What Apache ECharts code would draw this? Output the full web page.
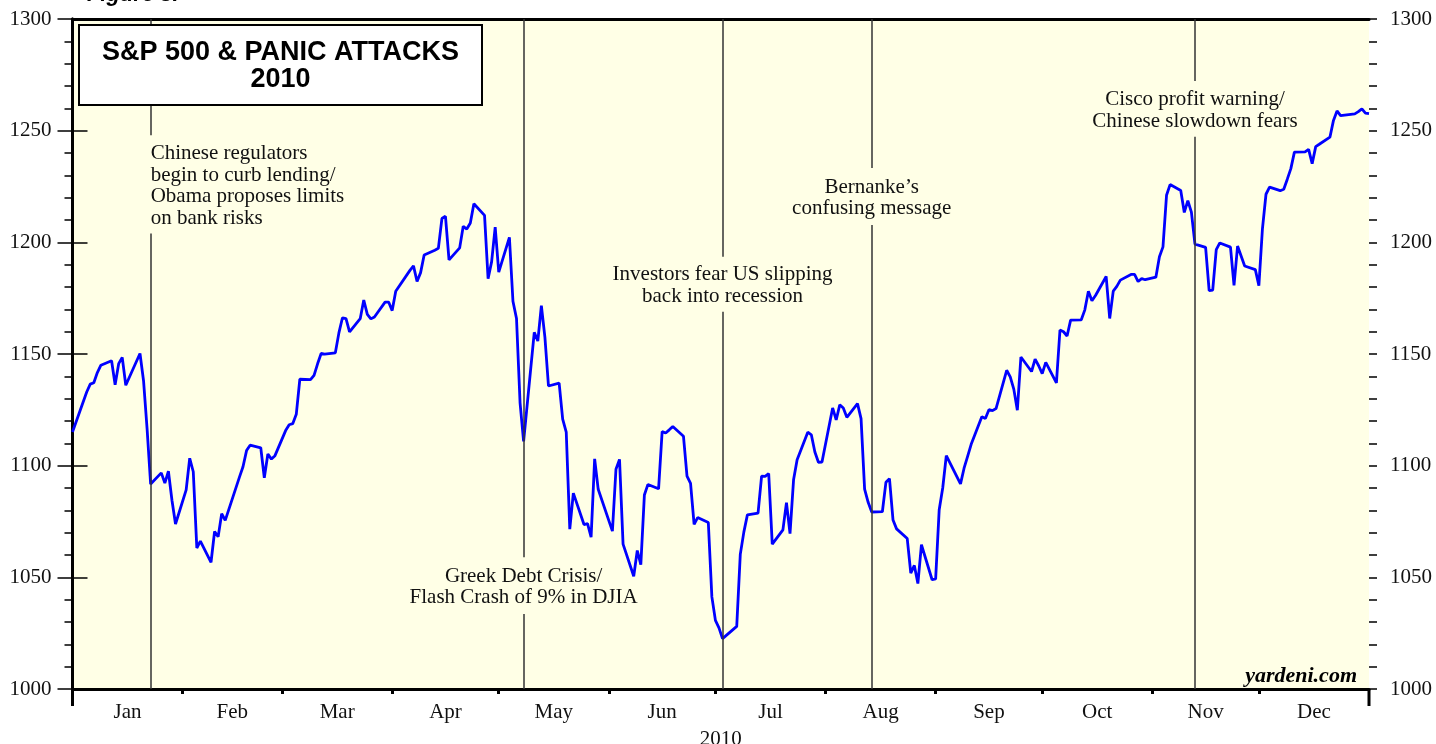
<!DOCTYPE html>
<html><head><meta charset="utf-8">
<script src="https://cdn.jsdelivr.net/npm/echarts@6/dist/echarts.min.js"></script>
<style>html,body{margin:0;padding:0;background:#fff}#c{width:1436px;height:744px}</style>
</head><body><div id="c"></div>
<script>
// S&P 500 daily closes
const tradeDates = [
'2009-12-31',
'2010-01-04','2010-01-05','2010-01-06','2010-01-07','2010-01-08','2010-01-11','2010-01-12','2010-01-13','2010-01-14','2010-01-15','2010-01-19','2010-01-20','2010-01-21','2010-01-22','2010-01-25','2010-01-26','2010-01-27','2010-01-28','2010-01-29',
'2010-02-01','2010-02-02','2010-02-03','2010-02-04','2010-02-05','2010-02-08','2010-02-09','2010-02-10','2010-02-11','2010-02-12','2010-02-16','2010-02-17','2010-02-18','2010-02-19','2010-02-22','2010-02-23','2010-02-24','2010-02-25','2010-02-26',
'2010-03-01','2010-03-02','2010-03-03','2010-03-04','2010-03-05','2010-03-08','2010-03-09','2010-03-10','2010-03-11','2010-03-12','2010-03-15','2010-03-16','2010-03-17','2010-03-18','2010-03-19','2010-03-22','2010-03-23','2010-03-24','2010-03-25','2010-03-26','2010-03-29','2010-03-30','2010-03-31',
'2010-04-01','2010-04-05','2010-04-06','2010-04-07','2010-04-08','2010-04-09','2010-04-12','2010-04-13','2010-04-14','2010-04-15','2010-04-16','2010-04-19','2010-04-20','2010-04-21','2010-04-22','2010-04-23','2010-04-26','2010-04-27','2010-04-28','2010-04-29','2010-04-30',
'2010-05-03','2010-05-04','2010-05-05','2010-05-06','2010-05-07','2010-05-10','2010-05-11','2010-05-12','2010-05-13','2010-05-14','2010-05-17','2010-05-18','2010-05-19','2010-05-20','2010-05-21','2010-05-24','2010-05-25','2010-05-26','2010-05-27','2010-05-28',
'2010-06-01','2010-06-02','2010-06-03','2010-06-04','2010-06-07','2010-06-08','2010-06-09','2010-06-10','2010-06-11','2010-06-14','2010-06-15','2010-06-16','2010-06-17','2010-06-18','2010-06-21','2010-06-22','2010-06-23','2010-06-24','2010-06-25','2010-06-28','2010-06-29','2010-06-30',
'2010-07-01','2010-07-02','2010-07-06','2010-07-07','2010-07-08','2010-07-09','2010-07-12','2010-07-13','2010-07-14','2010-07-15','2010-07-16','2010-07-19','2010-07-20','2010-07-21','2010-07-22','2010-07-23','2010-07-26','2010-07-27','2010-07-28','2010-07-29','2010-07-30',
'2010-08-02','2010-08-03','2010-08-04','2010-08-05','2010-08-06','2010-08-09','2010-08-10','2010-08-11','2010-08-12','2010-08-13','2010-08-16','2010-08-17','2010-08-18','2010-08-19','2010-08-20','2010-08-23','2010-08-24','2010-08-25','2010-08-26','2010-08-27','2010-08-30','2010-08-31',
'2010-09-01','2010-09-02','2010-09-03','2010-09-07','2010-09-08','2010-09-09','2010-09-10','2010-09-13','2010-09-14','2010-09-15','2010-09-16','2010-09-17','2010-09-20','2010-09-21','2010-09-22','2010-09-23','2010-09-24','2010-09-27','2010-09-28','2010-09-29','2010-09-30',
'2010-10-01','2010-10-04','2010-10-05','2010-10-06','2010-10-07','2010-10-08','2010-10-11','2010-10-12','2010-10-13','2010-10-14','2010-10-15','2010-10-18','2010-10-19','2010-10-20','2010-10-21','2010-10-22','2010-10-25','2010-10-26','2010-10-27','2010-10-28','2010-10-29',
'2010-11-01','2010-11-02','2010-11-03','2010-11-04','2010-11-05','2010-11-08','2010-11-09','2010-11-10','2010-11-11','2010-11-12','2010-11-15','2010-11-16','2010-11-17','2010-11-18','2010-11-19','2010-11-22','2010-11-23','2010-11-24','2010-11-26','2010-11-29','2010-11-30',
'2010-12-01','2010-12-02','2010-12-03','2010-12-06','2010-12-07','2010-12-08','2010-12-09','2010-12-10','2010-12-13','2010-12-14','2010-12-15','2010-12-16','2010-12-17','2010-12-20','2010-12-21','2010-12-22','2010-12-23','2010-12-27','2010-12-28','2010-12-29','2010-12-30','2010-12-31'
];
const closes = [
1115.10,
1132.99,1136.52,1137.14,1141.69,1144.98,1146.98,1136.22,1145.68,1148.46,1136.03,1150.23,1138.04,1116.48,1091.76,1096.78,1092.17,1097.50,1084.53,1073.87,
1089.19,1103.32,1097.28,1063.11,1066.19,1056.74,1070.52,1068.13,1078.47,1075.51,1094.87,1099.51,1106.75,1109.17,1108.01,1094.60,1105.24,1102.94,1104.49,
1115.71,1118.31,1118.79,1122.97,1138.70,1138.50,1140.45,1145.61,1150.24,1149.99,1150.51,1159.46,1166.21,1165.83,1159.90,1165.81,1174.17,1167.72,1165.73,1166.59,1173.22,1173.27,1169.43,
1178.10,1187.44,1189.44,1182.45,1186.44,1194.37,1196.48,1197.30,1210.65,1211.67,1192.13,1197.52,1207.17,1205.94,1208.67,1217.28,1212.05,1183.71,1191.36,1206.78,1186.69,
1202.26,1173.60,1165.87,1128.15,1110.88,1159.73,1155.79,1171.67,1157.44,1135.68,1136.94,1120.80,1115.05,1071.59,1087.69,1073.65,1074.03,1067.95,1103.06,1089.41,
1070.71,1098.38,1102.83,1064.88,1050.47,1062.00,1055.69,1086.84,1091.60,1089.63,1115.23,1114.61,1116.04,1117.51,1113.20,1095.31,1092.04,1073.69,1076.76,1074.57,1041.24,1030.71,
1027.37,1022.58,1028.06,1060.27,1070.25,1077.96,1078.75,1095.34,1095.17,1096.48,1064.88,1071.25,1083.48,1069.59,1093.67,1102.66,1115.01,1113.84,1106.13,1101.53,1101.60,
1125.86,1120.46,1127.24,1125.81,1121.64,1127.79,1121.06,1089.47,1083.61,1079.25,1079.38,1092.54,1094.16,1075.63,1071.69,1067.36,1051.87,1055.33,1047.22,1064.59,1048.92,1049.33,
1080.29,1090.10,1104.51,1091.84,1098.87,1104.18,1109.55,1121.90,1121.10,1125.07,1124.66,1125.59,1142.71,1139.78,1134.28,1124.83,1148.67,1142.16,1147.70,1144.73,1141.20,
1146.24,1137.03,1160.75,1159.97,1158.06,1165.15,1165.32,1169.77,1178.10,1173.81,1176.19,1184.71,1165.90,1178.17,1180.26,1183.08,1185.62,1185.64,1182.45,1183.78,1183.26,
1184.38,1193.57,1197.96,1221.06,1225.85,1223.25,1213.40,1218.71,1213.54,1199.21,1197.75,1178.34,1178.59,1196.69,1199.73,1197.84,1180.73,1198.35,1189.40,1187.76,1180.55,
1206.07,1221.53,1224.71,1223.12,1223.75,1228.28,1233.00,1240.40,1240.46,1241.59,1235.23,1242.87,1243.91,1247.08,1254.60,1258.84,1256.77,1257.54,1258.51,1259.78,1257.88,1257.64
];
const monthLabels = ['Jan','Feb','Mar','Apr','May','Jun','Jul','Aug','Sep','Oct','Nov','Dec'];
const yearLabel = '2010';
const yMin = 1000, yMax = 1300, yStep = 50, yMinorStep = 10;

// Annotated events
const eventDates = ['2010-01-22','2010-05-07','2010-07-02','2010-08-13','2010-11-12'];
const eventTexts = [
  'Chinese regulators\nbegin to curb lending/\nObama proposes limits\non bank risks',
  'Greek Debt Crisis/\nFlash Crash of 9% in DJIA',
  'Investors fear US slipping\nback into recession',
  'Bernanke\u2019s\nconfusing message',
  'Cisco profit warning/\nChinese slowdown fears'
];
const eventGapTop = [1248, 1059, 1193.6, 1233.3, 1272.2];
const eventGapBottom = [1204, 1033.6, 1168.9, 1207.8, 1247.3];
const eventAlign = ['left','center','center','center','center'];

const BASE = Date.UTC(2009, 11, 31);
function dayIndex(s) { const p = s.split('-').map(Number); return (Date.UTC(p[0], p[1]-1, p[2]) - BASE) / 864e5; }
const seriesData = tradeDates.map((d, i) => [dayIndex(d), closes[i]]);
const bounds = [0];
for (let m = 0; m < 12; m++) bounds.push((Date.UTC(2010, m+1, 0) - BASE) / 864e5);
const tickVals = bounds.slice(1, 12);
const labelVals = monthLabels.map((_, i) => (bounds[i] + bounds[i+1]) / 2);
const X_MAX = bounds[12];

const SERIF = '"Liberation Serif","Times New Roman",serif';
const SANS = '"Liberation Sans",Arial,sans-serif';

const chart = echarts.init(document.getElementById('c'), null, {renderer: 'canvas'});

const markData = [];
eventDates.forEach((d, i) => {
  const x = dayIndex(d);
  markData.push([{coord: [x, yMax]}, {coord: [x, eventGapTop[i]]}]);
  markData.push([{coord: [x, eventGapBottom[i]]}, {coord: [x, yMin]}]);
});

function majorY(pos) {
  return {
    type: 'value', min: yMin, max: yMax, interval: yStep, position: pos, offset: 0,
    axisLine: {show: true, lineStyle: {color: '#000', width: 3}},
    axisTick: {show: true, inside: false, length: 15, lineStyle: {color: '#000', width: 1.5}},
    splitLine: {show: false},
    axisLabel: {color: '#111', fontFamily: SERIF, fontSize: 21, margin: 21, formatter: function (v) { return String(v); }}
  };
}
function minorY(pos) {
  return {
    type: 'value', min: yMin, max: yMax, interval: yMinorStep, position: pos, offset: 0,
    axisLine: {show: false},
    axisTick: {show: true, inside: false, length: 8, lineStyle: {color: '#000', width: 1.5}},
    splitLine: {show: false}, axisLabel: {show: false}
  };
}

chart.setOption({
  animation: false,
  backgroundColor: '#fff',
  grid: {left: 72.5, right: 67, top: 19, bottom: 55, show: true, backgroundColor: '#ffffe6', borderWidth: 0,
         containLabel: false, outerBoundsMode: 'none'},
  xAxis: [{
    type: 'value', min: 0, max: X_MAX, position: 'bottom',
    axisLine: {show: true, onZero: false, lineStyle: {color: '#000', width: 3}},
    axisTick: {show: true, inside: false, length: 5, customValues: tickVals, lineStyle: {color: '#000', width: 3}},
    splitLine: {show: false},
    axisLabel: {
      show: true, customValues: labelVals, margin: 13, color: '#111', fontFamily: SERIF, fontSize: 21,
      formatter: function (v) {
        let best = 0;
        labelVals.forEach((lv, i) => { if (Math.abs(lv - v) < Math.abs(labelVals[best] - v)) best = i; });
        return monthLabels[best];
      }
    },
    name: yearLabel, nameLocation: 'middle', nameGap: 40,
    nameTextStyle: {color: '#111', fontFamily: SERIF, fontSize: 21}
  }, {
    type: 'value', min: 0, max: X_MAX, position: 'top',
    axisLine: {show: true, onZero: false, lineStyle: {color: '#000', width: 3}},
    axisTick: {show: false}, axisLabel: {show: false}, splitLine: {show: false}
  }],
  yAxis: [majorY('left'), majorY('right'), minorY('left'), minorY('right')],
  series: [{
    type: 'line', data: [], silent: true, z: 1,
    markLine: {
      silent: true, symbol: ['none', 'none'], label: {show: false},
      lineStyle: {color: '#333', width: 1.5, type: 'solid'},
      emphasis: {disabled: true},
      data: markData
    }
  }, {
    type: 'line', data: seriesData, showSymbol: false, symbol: 'none', z: 3,
    lineStyle: {color: '#0000ff', width: 2.8}, smooth: false
  }]
});

const gfx = [];
eventDates.forEach((d, i) => {
  const x = dayIndex(d);
  const pTop = chart.convertToPixel({gridIndex: 0}, [x, eventGapTop[i]]);
  const pBot = chart.convertToPixel({gridIndex: 0}, [x, eventGapBottom[i]]);
  gfx.push({
    type: 'text', z: 50,
    x: pTop[0], y: (pTop[1] + pBot[1]) / 2 + 1.5,
    style: {text: eventTexts[i], fill: '#111', font: '21px ' + SERIF, lineHeight: 21.5,
            align: eventAlign[i], verticalAlign: 'middle'}
  });
});
// axis extensions below the frame
const pL = chart.convertToPixel({gridIndex: 0}, [0, yMin]);
const pR = chart.convertToPixel({gridIndex: 0}, [X_MAX, yMin]);
gfx.push({type: 'line', z: 50, shape: {x1: pL[0], y1: pL[1], x2: pL[0], y2: pL[1] + 17}, style: {stroke: '#000', lineWidth: 3}});
gfx.push({type: 'line', z: 50, shape: {x1: pR[0], y1: pR[1], x2: pR[0], y2: pR[1] + 17}, style: {stroke: '#000', lineWidth: 3}});
// title box
gfx.push({type: 'rect', z: 60, shape: {x: 79, y: 25, width: 403, height: 80}, style: {fill: '#fff', stroke: '#000', lineWidth: 2}});
gfx.push({type: 'text', z: 61, x: 280.5, y: 66, style: {text: 'S&P 500 & PANIC ATTACKS\n2010', font: 'bold 27px ' + SANS, fill: '#000', align: 'center', verticalAlign: 'middle', lineHeight: 27}});
// source
gfx.push({type: 'text', z: 61, x: 1357, y: 676, style: {text: 'yardeni.com', font: 'italic bold 22px ' + SERIF, fill: '#000', align: 'right', verticalAlign: 'middle'}});
// figure caption (cut off at top)
gfx.push({type: 'text', z: 61, x: 87, y: -5, style: {text: 'Figure 8.', font: 'italic bold 22px ' + SANS, fill: '#000', align: 'left', verticalAlign: 'middle'}});
chart.setOption({graphic: gfx});
</script></body></html>
